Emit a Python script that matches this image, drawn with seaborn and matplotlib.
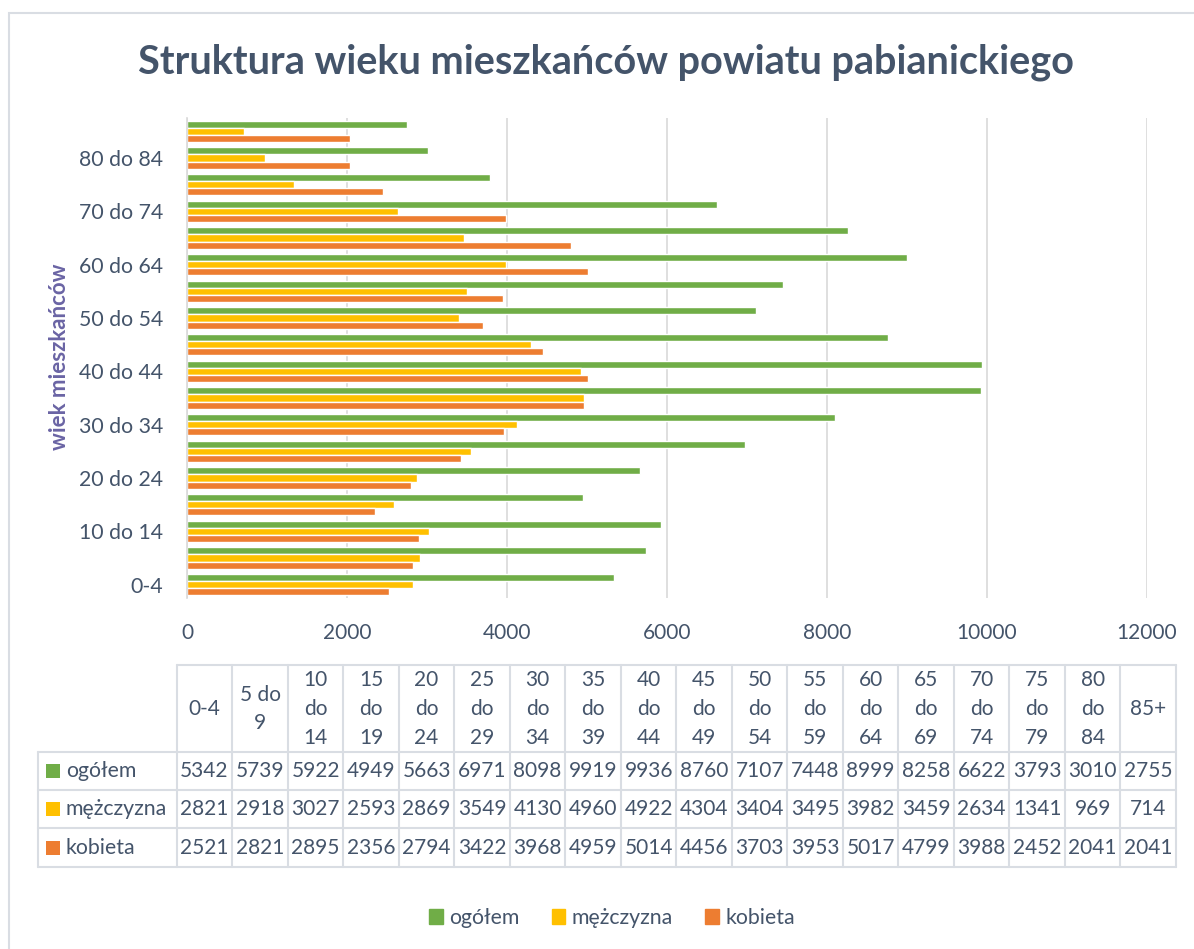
import numpy as np
import pandas as pd
import seaborn as sns
import matplotlib.pyplot as plt
from matplotlib.patches import Rectangle, Patch


age_groups = ["0-4", "5 do 9", "10 do 14", "15 do 19", "20 do 24", "25 do 29",
              "30 do 34", "35 do 39", "40 do 44", "45 do 49", "50 do 54", "55 do 59",
              "60 do 64", "65 do 69", "70 do 74", "75 do 79", "80 do 84", "85+"]
ogolem = [5342, 5739, 5922, 4949, 5663, 6971, 8098, 9919, 9936, 8760, 7107, 7448,
          8999, 8258, 6622, 3793, 3010, 2755]
mezczyzna = [2821, 2918, 3027, 2593, 2869, 3549, 4130, 4960, 4922, 4304, 3404, 3495,
             3982, 3459, 2634, 1341, 969, 714]
kobieta = [2521, 2821, 2895, 2356, 2794, 3422, 3968, 4959, 5014, 4456, 3703, 3953,
           5017, 4799, 3988, 2452, 2041, 2041]
series = ["ogółem", "mężczyzna", "kobieta"]
colors = ["#70AD47", "#FFC000", "#ED7D31"]
x_ticks = [0, 2000, 4000, 6000, 8000, 10000, 12000]

values = [ogolem, mezczyzna, kobieta]
df = pd.DataFrame({
    "wiek": age_groups * 3,
    "płeć": [s for s in series for _ in age_groups],
    "liczba": ogolem + mezczyzna + kobieta,
})

TXT = "#44546A"
GRID = "#D9D9D9"

sns.set_theme(style="white")
plt.rcParams['font.family'] = ['Lato', 'DejaVu Sans']

W, H = 1194, 949
fig = plt.figure(figsize=(W / 100, H / 100), dpi=100)


def box(l, t, r, b):
    return [l / W, 1 - b / H, (r - l) / W, (b - t) / H]


# outer chart frame
fig.patches.append(Rectangle((9 / W, -0.05), 1.2, 1 - 13 / H + 0.05,
                             transform=fig.transFigure, fill=False,
                             ec="#D9DDE3", lw=1.5))

fig.text(606 / W, 1 - 62 / H, "Struktura wieku mieszkańców powiatu pabianickiego",
         ha="center", va="center", fontsize=28.5, fontweight="bold", color=TXT)

# ---- bar chart ----
ax = fig.add_axes(box(187, 118, 1147, 598))
sns.barplot(data=df, y="wiek", x="liczba", hue="płeć",
            order=age_groups[::-1], hue_order=series, palette=colors,
            saturation=1, width=0.8, orient="h", legend=False, ax=ax)

n = len(age_groups)
ax.set_ylim(n - 0.5, -0.5)
ax.set_xlim(0, 12000)
ax.set_xticks(x_ticks)
ax.set_xticklabels([str(t) for t in x_ticks], fontsize=15, color=TXT)
ax.grid(axis="x", color=GRID, lw=1.2)
ax.set_axisbelow(True)

order = age_groups[::-1]
major = [i for i, g in enumerate(order) if age_groups.index(g) % 2 == 0]
ax.set_yticks(major)
ax.set_yticklabels([order[i] for i in major], fontsize=15.3, color=TXT)
ax.set_yticks(np.arange(-0.5, n, 1.0), minor=True)
ax.tick_params(axis="y", which="major", length=0, pad=17)
ax.tick_params(axis="y", which="minor", length=7, color=GRID, width=1.2)
ax.tick_params(axis="x", length=0, pad=18)
ax.set_xlabel("")
ax.set_ylabel("")
for s in ["top", "right", "bottom"]:
    ax.spines[s].set_visible(False)
ax.spines["left"].set_color(GRID)
ax.spines["left"].set_linewidth(1.2)

fig.text(60 / W, 1 - 357 / H, "wiek mieszkańców", rotation=90, ha="center",
         va="center", fontsize=16, fontweight="bold", color="#6A64A4")

# ---- data table ----
ax_t = fig.add_axes(box(38, 665, 1176, 867))
ax_t.set_xlim(-2.5, n)
ax_t.set_ylim(202, 0)
ax_t.axis("off")
rows_y = [87, 125, 163, 202]
lc = "#D9DDE3"
ax_t.plot([0, n], [0, 0], color=lc, lw=1.5, clip_on=False)
for y in rows_y:
    ax_t.plot([-2.5, n], [y, y], color=lc, lw=1.5, clip_on=False)
for j in range(n + 1):
    ax_t.plot([j, j], [0, 202], color=lc, lw=1.5, clip_on=False)
ax_t.plot([-2.5, -2.5], [87, 202], color=lc, lw=1.5, clip_on=False)


def wrap(label, maxc=4):
    lines, cur = [], ""
    for w in label.split(" "):
        cand = (cur + " " + w).strip()
        if len(cand) <= maxc or not cur:
            cur = cand
        else:
            lines.append(cur)
            cur = w
    lines.append(cur)
    return "\n".join(lines)


for j, g in enumerate(age_groups):
    ax_t.text(j + 0.5, 44, wrap(g), ha="center", va="center", fontsize=15,
              color=TXT, linespacing=1.55)

for r, (name, vals, c) in enumerate(zip(series, values, colors)):
    yc = (rows_y[r] + rows_y[r + 1]) / 2
    ax_t.add_patch(Rectangle((-2.356, yc - 7), 0.25, 14, color=c, lw=0))
    ax_t.text(-2.0, yc, name, ha="left", va="center", fontsize=15.3, color=TXT)
    for j, v in enumerate(vals):
        ax_t.text(j + 0.5, yc, str(v), ha="center", va="center", fontsize=15,
                  color=TXT)

# ---- legend ----
handles = [Patch(color=c, label=s) for s, c in zip(series, colors)]
fig.legend(handles=handles, loc="center", bbox_to_anchor=(612 / W, 1 - 918 / H),
           ncol=3, frameon=False, fontsize=15.3, handlelength=0.65, handleheight=0.65,
           handletextpad=0.3, columnspacing=1.5, labelcolor=TXT)

fig.savefig("out.png", dpi=100)
